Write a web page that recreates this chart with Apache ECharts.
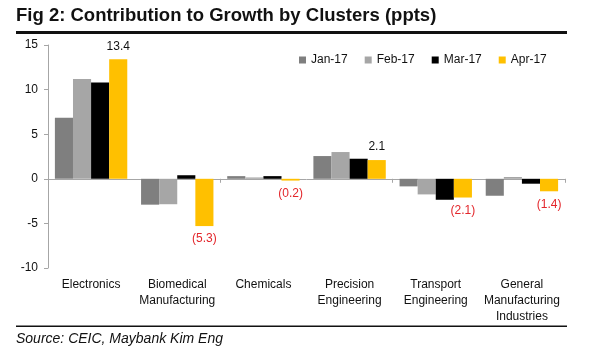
<!DOCTYPE html>
<html>
<head>
<meta charset="utf-8">
<script src="https://cdn.jsdelivr.net/npm/echarts@6/dist/echarts.min.js"></script>
<style>html,body{margin:0;padding:0;background:#fff}#c{width:600px;height:360px}</style>
</head>
<body>
<div id="c"></div>
<script>
const categories = ['Electronics', 'Biomedical\nManufacturing', 'Chemicals', 'Precision\nEngineering', 'Transport\nEngineering', 'General\nManufacturing\nIndustries'];
const seriesNames = ['Jan-17', 'Feb-17', 'Mar-17', 'Apr-17'];
const jan = [6.85, -2.9, 0.3, 2.55, -0.85, -1.9];
const feb = [11.2, -2.85, 0.15, 3.0, -1.75, 0.2];
const mar = [10.8, 0.4, 0.3, 2.25, -2.35, -0.55];
const apr = [13.4, -5.3, -0.2, 2.1, -2.1, -1.4];
const yMin = -10, yMax = 15, yStep = 5;
const colors = ['#7f7f7f', '#a6a6a6', '#000000', '#ffc000'];

const FONT = 'Liberation Sans';
const chart = echarts.init(document.getElementById('c'));

function fmt(v) { return v < 0 ? '(' + Math.abs(v).toFixed(1) + ')' : v.toFixed(1); }

const aprData = apr.map(v => ({
  value: v,
  label: { position: v < 0 ? 'bottom' : 'top', color: v < 0 ? '#e3262b' : '#111' }
}));

const values = [jan, feb, mar, aprData];

chart.setOption({
  animation: false,
  color: colors,
  textStyle: { fontFamily: FONT },
  grid: { left: 48, right: 35, top: 45, bottom: 92 },
  legend: {
    left: 294, top: 49, icon: 'rect', itemWidth: 7, itemHeight: 7, itemGap: 17,
    textStyle: { fontSize: 12, color: '#111', fontFamily: FONT },
    data: seriesNames
  },
  xAxis: [
    {
      type: 'category', data: categories, position: 'top',
      axisLine: { onZero: true, lineStyle: { color: '#a6a6a6', width: 1 } },
      axisTick: { show: true, inside: true, length: 4, lineStyle: { color: '#a6a6a6' } },
      axisLabel: { show: false }
    },
    {
      type: 'category', data: categories, position: 'bottom',
      axisLine: { show: false, onZero: false }, axisTick: { show: false },
      axisLabel: { fontSize: 12, color: '#111', lineHeight: 16, margin: 9, interval: 0, fontFamily: FONT }
    }
  ],
  yAxis: {
    type: 'value', min: yMin, max: yMax, interval: yStep,
    axisLine: { show: true, lineStyle: { color: '#a6a6a6' } },
    axisTick: { show: true, length: 4, lineStyle: { color: '#a6a6a6' } },
    splitLine: { show: false },
    axisLabel: { fontSize: 12, color: '#111', margin: 10, fontFamily: FONT }
  },
  series: seriesNames.map((name, i) => ({
    name: name, type: 'bar', xAxisIndex: 0, data: values[i],
    barGap: 0, barCategoryGap: '16%',
    itemStyle: { color: colors[i] },
    label: i === 3 ? {
      show: true, distance: 7, fontSize: 12, fontFamily: FONT,
      formatter: p => fmt(p.value)
    } : { show: false }
  })),
  graphic: [
    { type: 'text', left: 16, top: 6, style: { text: 'Fig 2: Contribution to Growth by Clusters (ppts)', font: 'bold 18.5px "' + FONT + '"', fill: '#111' } },
    { type: 'rect', shape: { x: 16, y: 31, width: 551, height: 3 }, style: { fill: '#111' } },
    { type: 'rect', shape: { x: 16, y: 325.5, width: 551, height: 1.5 }, style: { fill: '#111' } },
    { type: 'text', left: 16, top: 332, style: { text: 'Source: CEIC, Maybank Kim Eng', font: 'italic 14px "' + FONT + '"', fill: '#111' } }
  ]
});
</script>
</body>
</html>
